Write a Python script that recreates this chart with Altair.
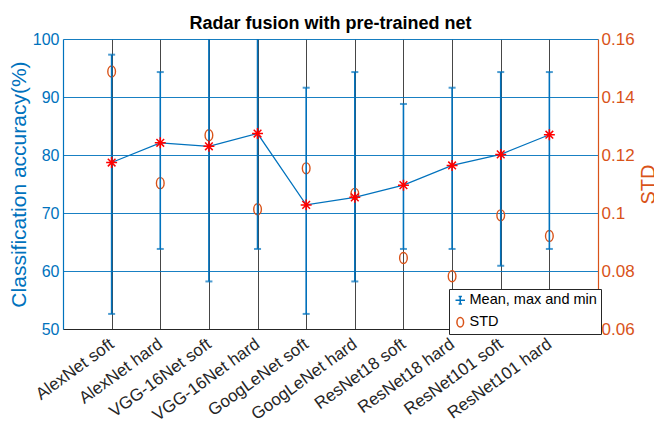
import json
import altair as alt
import pandas as pd

categories = ["AlexNet soft", "AlexNet hard", "VGG-16Net soft", "VGG-16Net hard",
              "GoogLeNet soft", "GoogLeNet hard", "ResNet18 soft", "ResNet18 hard",
              "ResNet101 soft", "ResNet101 hard"]
mean_acc = [78.7, 82.1, 81.5, 83.7, 71.4, 72.7, 74.8, 78.2, 80.1, 83.5]
max_acc = [97.3, 94.3, 100.8, 100.8, 91.6, 94.3, 88.8, 91.6, 94.3, 94.3]
min_acc = [52.6, 63.8, 58.2, 63.8, 52.6, 58.2, 63.8, 63.8, 60.9, 63.8]
std_vals = [0.1488, 0.1103, 0.1268, 0.1013, 0.1154, 0.1066, 0.0845, 0.0782, 0.0992, 0.0921]

BLUE = "#0072BD"
ORANGE = "#D95319"
RED = "#FF0000"
SANS = "Liberation Sans, Arial, sans-serif"

df = pd.DataFrame({
    "idx": list(range(1, len(categories) + 1)),
    "cat": categories,
    "mean": mean_acc,
    "maxv": max_acc,
    "minv": min_acc,
    "std": std_vals,
    "series": ["STD"] * len(categories),
})

cat_js = json.dumps(categories)
xscale = alt.Scale(domain=[0, 11], nice=False, zero=False)
xaxis = alt.Axis(
    title=None, values=list(range(1, 11)), labelExpr=f"{cat_js}[datum.value - 1]",
    labelAngle=-36, labelAlign="right", labelBaseline="middle", labelPadding=13,
    labelOverlap=False, labelBound=False, labelFlush=False,
    labelFont=SANS, labelFontSize=17, labelColor="#262626",
    ticks=False, domainColor="#262626", domainWidth=1,
    grid=True, gridColor="#262626", gridWidth=1, gridOpacity=0.85,
)
x = alt.X("idx:Q", scale=xscale, axis=xaxis)

yscale = alt.Scale(domain=[50, 100], nice=False, zero=False)
yaxis = alt.Axis(
    orient="left", title="Classification accuracy(%)", values=[50, 60, 70, 80, 90, 100],
    labelFont=SANS, labelFontSize=16, labelColor=BLUE, labelPadding=4,
    titleFont=SANS, titleFontSize=21, titleFontWeight="normal", titleColor=BLUE, titlePadding=3,
    ticks=False, domainColor=BLUE, domainWidth=1.2,
    grid=True, gridColor=BLUE, gridWidth=1.2, gridOpacity=0.9,
)

base = alt.Chart(df)

rules = base.mark_rule(color=BLUE, strokeWidth=1.6, clip=True).encode(
    x=x, y=alt.Y("minv:Q", scale=yscale, axis=yaxis), y2="maxv:Q")
cap_min = base.mark_tick(orient="horizontal", color=BLUE, size=7, thickness=2, clip=True).encode(
    x=x, y=alt.Y("minv:Q", scale=yscale, axis=yaxis))
cap_max = base.mark_tick(orient="horizontal", color=BLUE, size=7, thickness=2, clip=True).encode(
    x=x, y=alt.Y("maxv:Q", scale=yscale, axis=yaxis))
line = base.mark_line(color=BLUE, strokeWidth=1.2).encode(
    x=x, y=alt.Y("mean:Q", scale=yscale, axis=yaxis))
star_path = "M-1,0L1,0M0,-1L0,1M-0.7,-0.7L0.7,0.7M-0.7,0.7L0.7,-0.7"
stars = base.mark_point(shape=star_path, color=RED, filled=False, size=120, strokeWidth=1.5, opacity=1).encode(
    x=x, y=alt.Y("mean:Q", scale=yscale, axis=yaxis))

errbar_path = "M-1,0L1,0M0,-0.8L0,0.8M-0.35,-0.8L0.35,-0.8M-0.35,0.8L0.35,0.8"
ellipse_path = "M0,-1A0.7,1 0 1,1 0,1A0.7,1 0 1,1 0,-1Z"
legend_domain = ["Mean, max and min", "STD"]
legend = alt.Legend(
    title=None, orient="none", legendX=386, legendY=250,
    labelFont=SANS, labelFontSize=14.5, labelColor="#000000", labelOffset=2,
    symbolSize=90, symbolStrokeWidth=1.5, rowPadding=6,
    padding=4, fillColor="white", strokeColor="#262626", cornerRadius=0,
)
yaxis_r = alt.Axis(
    orient="right", title="STD", values=[0.06, 0.08, 0.10, 0.12, 0.14, 0.16], format=".2~f",
    labelFont=SANS, labelFontSize=17, labelColor=ORANGE, labelPadding=3,
    titleFont=SANS, titleFontSize=20, titleFontWeight="normal", titleColor=ORANGE,
    titleAngle=270, titlePadding=24,
    ticks=False, domainColor=ORANGE, domainWidth=1.2, grid=False,
)
circles = base.mark_point(filled=False, size=120, strokeWidth=1.4, opacity=1).encode(
    x=x,
    y=alt.Y("std:Q", scale=alt.Scale(domain=[0.06, 0.16], nice=False, zero=False), axis=yaxis_r),
    shape=alt.Shape("series:N", scale=alt.Scale(domain=legend_domain, range=[errbar_path, ellipse_path]), legend=legend),
    stroke=alt.Stroke("series:N", scale=alt.Scale(domain=legend_domain, range=[BLUE, ORANGE]), legend=legend),
)

left = alt.layer(rules, cap_min, cap_max, line, stars)

chart = alt.layer(circles, left).resolve_scale(y="independent").properties(
    width=535, height=290,
    title=alt.TitleParams("Radar fusion with pre-trained net", font=SANS, fontSize=18,
                          fontWeight="bold", color="#000000", anchor="middle", offset=-3),
    autosize=alt.AutoSizeParams(type="none"),
    padding={"left": 55, "top": 31, "right": 56, "bottom": 92},
).configure_view(strokeWidth=0).configure(background="white")

chart.save("out.html", embed_options={"renderer": "svg", "actions": False})
